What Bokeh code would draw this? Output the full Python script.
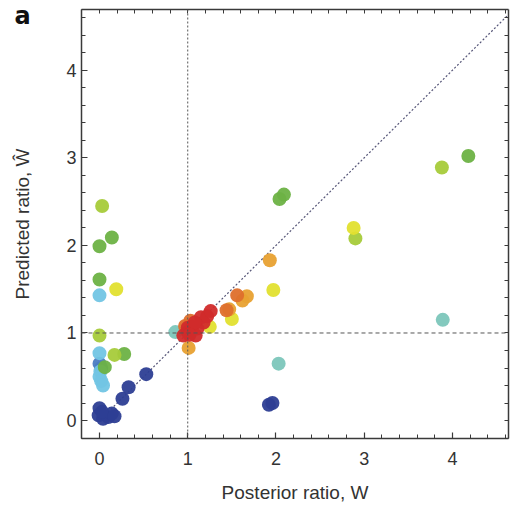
from bokeh.plotting import figure
from bokeh.models import LinearAxis, Span, FixedTicker
from bokeh.embed import file_html
from bokeh.resources import INLINE

# ---- data ----
navy_x = [0.00, -0.01, 0.04, 0.10, 0.14, 0.03, 0.17, 0.26, 0.33, 0.53, 1.92, 1.96]
navy_y = [0.14, 0.06, 0.02, 0.04, 0.08, 0.10, 0.05, 0.25, 0.38, 0.53, 0.18, 0.20]

midblue_x = [0.00, 0.02]
midblue_y = [0.65, 0.60]

lightblue_x = [0.00, 0.00, 0.01, 0.00, 0.02, 0.04]
lightblue_y = [1.43, 0.77, 0.56, 0.50, 0.45, 0.40]

teal_x = [0.86, 2.03, 3.89]
teal_y = [1.01, 0.65, 1.15]

green_x = [0.00, 0.14, 0.00, 0.28, 0.06, 2.04, 2.09, 4.18]
green_y = [1.99, 2.09, 1.61, 0.76, 0.61, 2.53, 2.58, 3.02]

ygreen_x = [0.03, 0.00, 0.17, 2.90, 3.88]
ygreen_y = [2.45, 0.97, 0.75, 2.08, 2.89]

yellow_x = [0.19, 1.25, 1.50, 1.97, 2.88]
yellow_y = [1.50, 1.07, 1.16, 1.49, 2.20]

orange_x = [1.01, 1.67, 1.62, 1.93, 1.47]
orange_y = [0.83, 1.42, 1.37, 1.83, 1.27]

dorange_x = [1.56, 1.44, 1.03, 0.97]
dorange_y = [1.43, 1.26, 1.14, 1.08]

red_x = [1.00, 1.05, 1.11, 0.95, 1.09, 1.18, 1.15, 1.22, 1.26, 1.00, 1.08, 1.02]
red_y = [1.01, 1.07, 1.05, 0.97, 0.97, 1.12, 1.18, 1.19, 1.25, 1.06, 1.12, 0.98]

groups = [
    (navy_x, navy_y, "#2d3e93"),
    (midblue_x, midblue_y, "#4b7cc2"),
    (lightblue_x, lightblue_y, "#72c5e4"),
    (teal_x, teal_y, "#7cc6bb"),
    (green_x, green_y, "#6db245"),
    (ygreen_x, ygreen_y, "#a6cb3a"),
    (yellow_x, yellow_y, "#e2e02f"),
    (orange_x, orange_y, "#e8a132"),
    (dorange_x, dorange_y, "#de6f2c"),
    (red_x, red_y, "#d12b2b"),
]

major_ticks = [0, 1, 2, 3, 4]
minor_ticks = [round(-0.2 + 0.2 * i, 1) for i in range(25)]
x_label = "Posterior ratio, W"
y_label = "Predicted ratio, Ŵ"
panel_label = "a"

p = figure(width=511, height=505, x_range=(-0.204, 4.635), y_range=(-0.2045, 4.693),
           output_backend="svg", toolbar_location=None,
           min_border_left=81, min_border_right=3, min_border_top=9, min_border_bottom=65)
p.xgrid.visible = False
p.ygrid.visible = False
p.outline_line_color = None
p.background_fill_color = "white"
p.border_fill_color = "white"

# panel letter drawn as a zero-height title overlapping the margin
p.title.text = panel_label
p.title.align = "left"
p.title.offset = -67
p.title.standoff = -40
p.title.vertical_align = "bottom"
p.title.text_font = "DejaVu Sans"
p.title.text_font_style = "bold"
p.title.text_font_size = "24px"
p.title.text_color = "#111111"

AX = "#3a3a3a"

def style_axis(ax, labels=True):
    if labels:
        ax.ticker = FixedTicker(ticks=major_ticks, minor_ticks=minor_ticks)
        ax.major_label_text_font = "Liberation Sans"
        ax.major_label_text_font_size = "18px"
        ax.major_label_text_color = "#333333"
        ax.axis_label_text_font = "Liberation Sans"
        ax.axis_label_text_font_size = "19px"
        ax.axis_label_text_font_style = "normal"
        ax.axis_label_text_color = "#333333"
    else:
        ax.ticker = FixedTicker(ticks=[], minor_ticks=minor_ticks)
    ax.axis_line_color = AX
    ax.axis_line_width = 1.5
    ax.major_tick_in = 6
    ax.major_tick_out = 0
    ax.minor_tick_in = 4
    ax.minor_tick_out = 0
    ax.major_tick_line_color = AX
    ax.minor_tick_line_color = AX
    ax.major_tick_line_width = 1.2
    ax.minor_tick_line_width = 1.0

style_axis(p.xaxis[0])
style_axis(p.yaxis[0])
p.xaxis[0].major_label_standoff = 13
p.yaxis[0].major_label_standoff = 5
p.xaxis[0].axis_label = x_label
p.yaxis[0].axis_label = y_label
p.xaxis[0].axis_label_standoff = 14
p.yaxis[0].axis_label_standoff = 30

top = LinearAxis()
right = LinearAxis()
style_axis(top, labels=False)
style_axis(right, labels=False)
p.add_layout(top, "above")
p.add_layout(right, "right")

# reference lines
p.add_layout(Span(location=1, dimension="height", line_color="#555555", line_dash="2 2", line_width=1))
p.add_layout(Span(location=1, dimension="width", line_color="#555555", line_dash="4 3", line_width=1))
p.segment(x0=[0], y0=[0], x1=[4.8], y1=[4.8], line_color="#555577", line_dash="2 2", line_width=1.2)

for gx, gy, col in groups:
    p.scatter(gx, gy, size=14, fill_color=col, line_color=None, fill_alpha=0.95)

open("out.html", "w").write(file_html(p, INLINE))
